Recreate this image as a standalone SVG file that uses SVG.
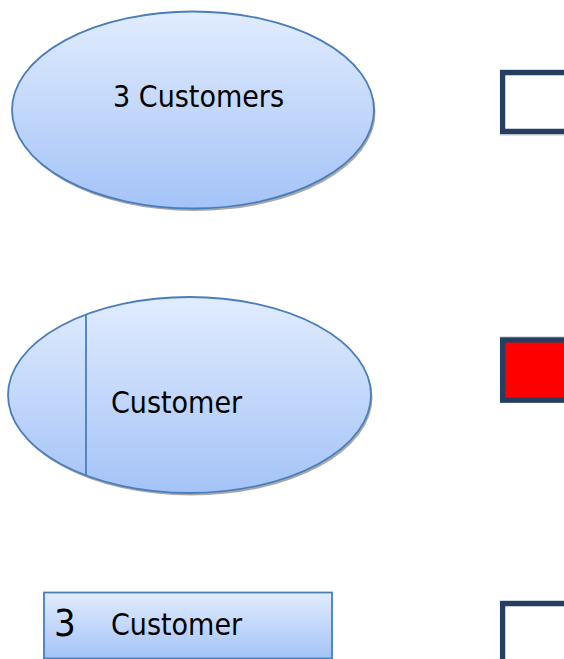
<svg xmlns="http://www.w3.org/2000/svg" width="564" height="659" viewBox="0 0 564 659">
<defs>
<linearGradient id="g" x1="0" y1="0" x2="0" y2="1">
<stop offset="0" stop-color="#E1ECFE"/>
<stop offset="1" stop-color="#A4C3F7"/>
</linearGradient>
</defs>
<style>
.shape{fill:url(#g);stroke:#4A7EBB;stroke-width:1.8}
.shadow{fill:#8c8c8c;opacity:0.75}
.lbl{font-family:"DejaVu Sans",Tahoma,sans-serif;font-stretch:condensed;font-size:30px;fill:#000}
.box{stroke:#243F60;stroke-width:5.3}
</style>
<rect width="564" height="659" fill="#fff"/>
<g id="node-3-customers">
<ellipse class="shadow" cx="194.5" cy="112.5" rx="181" ry="98.5"/>
<ellipse class="shape" cx="193" cy="110" rx="181" ry="98.5"/>
<text class="lbl" x="198.5" y="107" text-anchor="middle">3 Customers</text>
</g>
<g id="node-customer">
<ellipse class="shadow" cx="191" cy="397.5" rx="181.5" ry="98"/>
<ellipse class="shape" cx="189.5" cy="395" rx="181.5" ry="98"/>
<line x1="86" y1="314.5" x2="86" y2="476" stroke="#4A7EBB" stroke-width="1.8"/>
<text class="lbl" x="111" y="413">Customer</text>
</g>
<g id="node-3-customer-rect">
<rect class="shape" x="44" y="592.5" width="288" height="66"/>
<text class="lbl" x="54" y="636" style="font-size:38px">3</text>
<text class="lbl" x="111" y="635">Customer</text>
</g>
<g id="node-box-1">
<rect x="503" y="72.5" width="80" height="60" fill="#fff" stroke="#bfc6d0" stroke-width="6"/>
<rect class="box" x="502.6" y="72.6" width="80" height="58.8" fill="#fff"/>
</g>
<g id="node-box-2">
<rect x="500" y="336.5" width="70" height="2" fill="#b7c0cc"/>
<rect class="box" x="502.6" y="340" width="80" height="60.2" fill="#FF0000"/>
</g>
<g id="node-box-3">
<rect x="500" y="600.5" width="70" height="2" fill="#b7c0cc"/>
<rect class="box" x="502.6" y="603.6" width="80" height="80" fill="#fff"/>
</g>
<g id="connectors"></g>
</svg>
